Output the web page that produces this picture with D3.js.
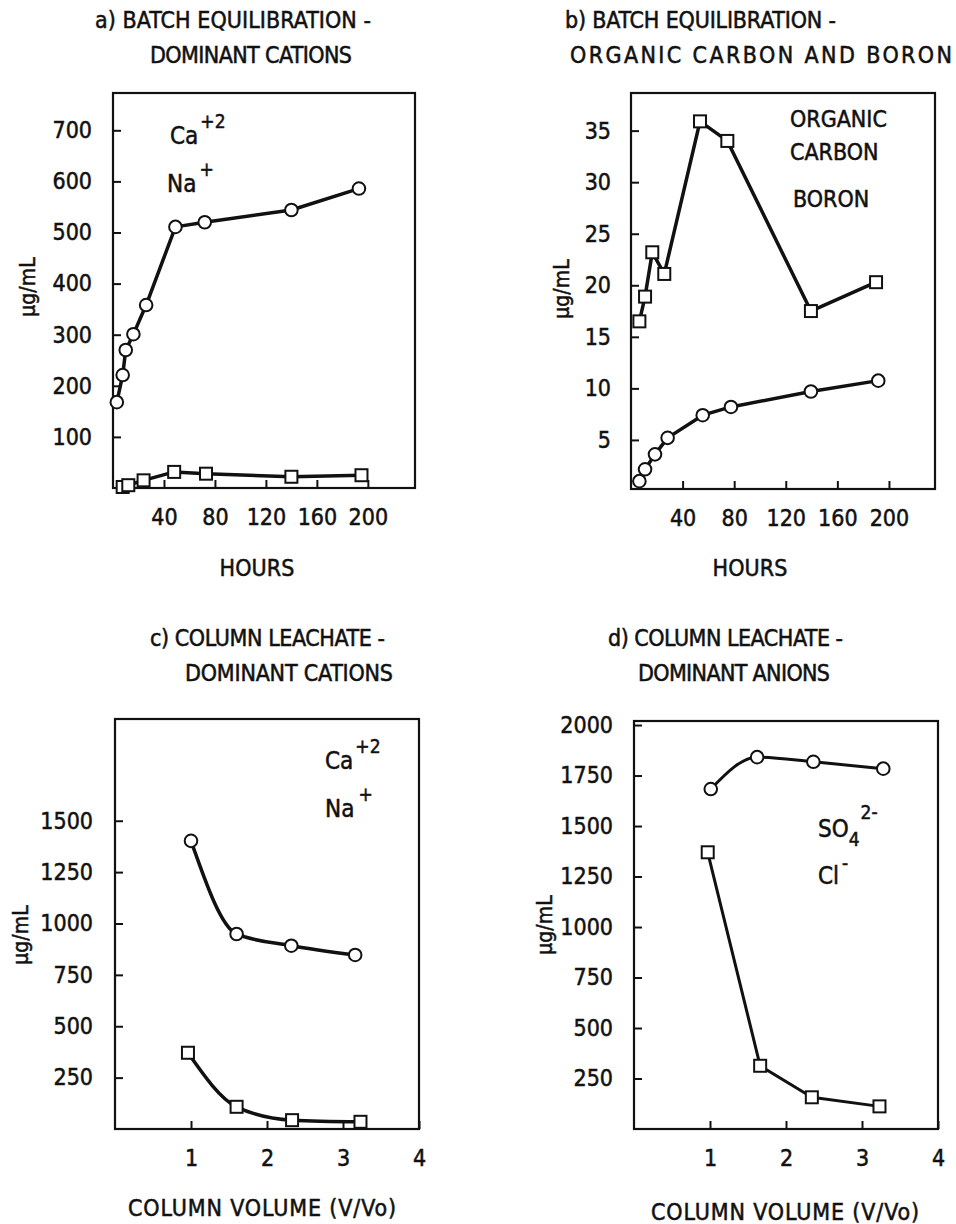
<!DOCTYPE html>
<html>
<head>
<meta charset="utf-8">
<script src="https://cdn.jsdelivr.net/npm/d3@7"></script>
<style>
  body { margin: 0; background: #fff; }
  svg text { font-family: "DejaVu Sans Condensed", "Liberation Sans Narrow", "DejaVu Sans", sans-serif; font-stretch: condensed; fill: #111; stroke: #111; stroke-width: 0.5px; }
</style>
</head>
<body>
<div class="chart"></div>
<script>
(function(){

  // a) batch equilibration - dominant cations
  var hoursCaBatch = [3, 7.6, 10, 16, 26, 49, 72, 140, 193];
  var caBatch = [168, 221, 270, 301, 358, 511, 520, 544, 586];
  var hoursNaBatch = [7.6, 12, 24, 48, 73, 140, 195];
  var naBatch = [2, 5.5, 15, 31.5, 28, 22, 25];

  // b) batch equilibration - organic carbon and boron
  var hoursCarbon = [6.5, 10.9, 16.5, 25.8, 53.5, 74.7, 139.5, 190];
  var organicCarbon = [16.5, 18.9, 23.2, 21.1, 35.9, 34.0, 17.5, 20.3];
  var hoursBoron = [6.5, 10.9, 18.6, 28.4, 55.6, 77.5, 139.5, 191.7];
  var boron = [1.0, 2.15, 3.6, 5.2, 7.4, 8.2, 9.7, 10.75];

  // c) column leachate - dominant cations
  var volCaColumn = [1.0, 1.6, 2.32, 3.16];
  var caColumn = [1402, 949, 892, 847];
  var volNaColumn = [0.96, 1.6, 2.33, 3.23];
  var naColumn = [371, 108, 43, 35];

  // d) column leachate - dominant anions
  var volSO4 = [1.01, 1.62, 2.36, 3.28];
  var so4 = [1683, 1841, 1818, 1784];
  var volCl = [0.97, 1.66, 2.34, 3.23];
  var cl = [1370, 313, 157, 112];

  var hourTicks = [40, 80, 120, 160, 200];
  var volumeTicks = [1, 2, 3, 4];
  var cationBatchTicks = [100, 200, 300, 400, 500, 600, 700];
  var carbonTicks = [5, 10, 15, 20, 25, 30, 35];
  var cationColumnTicks = [250, 500, 750, 1000, 1250, 1500];
  var anionTicks = [250, 500, 750, 1000, 1250, 1500, 1750, 2000];

  var svg = d3.select('.chart')
    .append('svg')
    .attr('width', 956)
    .attr('height', 1224);

  var zip = function(xs, ys){
    return xs.map(function(x, i){ return [x, ys[i]]; });
  };

  var drawPanel = function(cfg){
    var x = d3.scaleLinear().domain(cfg.xDomain).range([cfg.left, cfg.right]);
    var y = d3.scaleLinear().domain(cfg.yDomain).range([cfg.bottom, cfg.top]);
    var g = svg.append('g');

    // titles
    cfg.title.forEach(function(t){
      g.append('text')
        .attr('x', t.x).attr('y', t.y)
        .attr('font-size', 23)
        .attr('textLength', t.w)
        .attr('lengthAdjust', 'spacing')
        .text(t.text);
    });

    g.append('rect')
      .attr('x', cfg.left).attr('y', cfg.top)
      .attr('width', cfg.right - cfg.left)
      .attr('height', cfg.bottom - cfg.top)
      .attr('fill', 'none')
      .attr('stroke', '#111')
      .attr('stroke-width', 2.2);

    var yAxis = g.append('g')
      .attr('transform', 'translate(' + cfg.left + ',0)')
      .call(d3.axisLeft(y).tickValues(cfg.yTicks).tickSize(-8).tickPadding(cfg.yPad).tickFormat(d3.format('d')));
    var xAxis = g.append('g')
      .attr('transform', 'translate(0,' + cfg.bottom + ')')
      .call(d3.axisBottom(x).tickValues(cfg.xTicks).tickSize(-8).tickPadding(21).tickFormat(d3.format('d')));

    [xAxis, yAxis].forEach(function(a){
      a.select('.domain').remove();
      a.selectAll('line').attr('stroke', '#111').attr('stroke-width', 2);
      a.selectAll('text').attr('font-size', 23).attr('font-family', null).style('fill', '#111');
    });

    g.append('text')
      .attr('transform', 'translate(' + cfg.yLabel[0] + ',' + cfg.yLabel[1] + ') rotate(-90)')
      .attr('text-anchor', 'middle')
      .attr('dy', '0.35em')
      .attr('font-size', 21)
      .text('µg/mL');

    g.append('text')
      .attr('x', cfg.xLabel[0]).attr('y', cfg.xLabel[1])
      .attr('text-anchor', 'middle')
      .attr('dy', '0.35em')
      .attr('font-size', 23)
      .attr('textLength', cfg.xLabel[2])
      .attr('lengthAdjust', 'spacing')
      .text(cfg.xTitle);

    cfg.series.forEach(function(s){
      var pts = zip(s.xs, s.ys);
      var line = d3.line()
        .x(function(d){ return x(d[0]); })
        .y(function(d){ return y(d[1]); })
        .curve(s.smooth ? d3.curveMonotoneX : d3.curveLinear);

      g.append('path')
        .attr('d', line(pts))
        .attr('fill', 'none')
        .attr('stroke', '#111')
        .attr('stroke-width', s.width || 3.5)
        .attr('stroke-linejoin', 'round');

      if(s.marker === 'circle'){
        g.selectAll(null).data(pts).enter().append('circle')
          .attr('cx', function(d){ return x(d[0]); })
          .attr('cy', function(d){ return y(d[1]); })
          .attr('r', 6.3)
          .attr('fill', '#fff')
          .attr('stroke', '#111')
          .attr('stroke-width', 2);
      } else {
        g.selectAll(null).data(pts).enter().append('rect')
          .attr('x', function(d){ return x(d[0]) - 6; })
          .attr('y', function(d){ return y(d[1]) - 6; })
          .attr('width', 12).attr('height', 12)
          .attr('fill', '#fff')
          .attr('stroke', '#111')
          .attr('stroke-width', 2);
      }
    });

    // legend text with super/subscripts
    cfg.legend.forEach(function(l){
      var t = g.append('text').attr('x', l.x).attr('y', l.y).attr('font-size', l.size || 24);
      l.parts.forEach(function(p){
        var span = t.append('tspan').text(p.text);
        if(p.dy){ span.attr('dy', p.dy).attr('font-size', 19); }
        if(p.dx){ span.attr('dx', p.dx); }
      });
    });
  };

  drawPanel({
    left: 113, right: 415, top: 93, bottom: 488,
    xDomain: [0, 237], yDomain: [0, 773],
    xTicks: hourTicks, yTicks: cationBatchTicks, yPad: 21,
    title: [
      {text: 'a)  BATCH EQUILIBRATION -', x: 95, y: 28, w: 276},
      {text: 'DOMINANT CATIONS', x: 150, y: 63, w: 202}
    ],
    yLabel: [28, 287], xLabel: [257, 568, 75], xTitle: 'HOURS',
    series: [
      {xs: hoursCaBatch, ys: caBatch, marker: 'circle'},
      {xs: hoursNaBatch, ys: naBatch, marker: 'square'}
    ],
    legend: [
      {x: 170, y: 144, parts: [{text: 'Ca'}, {text: '+2', dy: -16, dx: 2}]},
      {x: 167, y: 192, parts: [{text: 'Na'}, {text: '+', dy: -16, dx: 3}]}
    ]
  });

  drawPanel({
    left: 631, right: 935, top: 93, bottom: 489,
    xDomain: [0, 235.7], yDomain: [0.24, 38.65],
    xTicks: hourTicks, yTicks: carbonTicks, yPad: 20,
    title: [
      {text: 'b)  BATCH EQUILIBRATION -', x: 565, y: 28, w: 271},
      {text: 'ORGANIC CARBON AND BORON', x: 570, y: 63, w: 382}
    ],
    yLabel: [562, 289], xLabel: [750, 568, 75], xTitle: 'HOURS',
    series: [
      {xs: hoursCarbon, ys: organicCarbon, marker: 'square'},
      {xs: hoursBoron, ys: boron, marker: 'circle'}
    ],
    legend: [
      {x: 790, y: 127, size: 23, parts: [{text: 'ORGANIC'}]},
      {x: 790, y: 160, size: 23, parts: [{text: 'CARBON'}]},
      {x: 793, y: 207, size: 23, parts: [{text: 'BORON'}]}
    ]
  });

  drawPanel({
    left: 115, right: 419, top: 719, bottom: 1129,
    xDomain: [0, 4], yDomain: [0, 1995],
    xTicks: volumeTicks, yTicks: cationColumnTicks, yPad: 22,
    title: [
      {text: 'c)  COLUMN LEACHATE -', x: 150, y: 646, w: 235},
      {text: 'DOMINANT CATIONS', x: 185, y: 681, w: 208}
    ],
    yLabel: [21, 935], xLabel: [262, 1208, 268], xTitle: 'COLUMN VOLUME (V/Vo)',
    series: [
      {xs: volCaColumn, ys: caColumn, marker: 'circle', smooth: true},
      {xs: volNaColumn, ys: naColumn, marker: 'square', smooth: true}
    ],
    legend: [
      {x: 325, y: 769, parts: [{text: 'Ca'}, {text: '+2', dy: -16, dx: 2}]},
      {x: 325, y: 817, parts: [{text: 'Na'}, {text: '+', dy: -16, dx: 4}]}
    ]
  });

  drawPanel({
    left: 634, right: 938, top: 721, bottom: 1129,
    xDomain: [0, 4], yDomain: [0, 2020],
    xTicks: volumeTicks, yTicks: anionTicks, yPad: 21,
    title: [
      {text: 'd)  COLUMN LEACHATE -', x: 608, y: 646, w: 235},
      {text: 'DOMINANT ANIONS', x: 638, y: 681, w: 192}
    ],
    yLabel: [545, 925], xLabel: [785, 1212, 268], xTitle: 'COLUMN VOLUME (V/Vo)',
    series: [
      {xs: volSO4, ys: so4, marker: 'circle', smooth: true, width: 3},
      {xs: volCl, ys: cl, marker: 'square', width: 3}
    ],
    legend: [
      {x: 818, y: 837, parts: [{text: 'SO'}, {text: '4', dy: 9, dx: 0}, {text: '2-', dy: -27, dx: 1}]},
      {x: 818, y: 884, parts: [{text: 'Cl'}, {text: '-', dy: -14, dx: 3}]}
    ]
  });

}());
</script>
</body>
</html>
